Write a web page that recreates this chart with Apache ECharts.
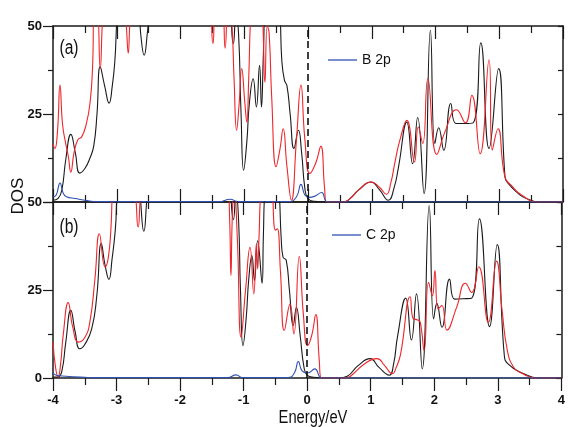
<!DOCTYPE html>
<html>
<head>
<meta charset="utf-8">
<script src="https://cdn.jsdelivr.net/npm/echarts@6/dist/echarts.min.js"></script>
<style>
html,body{margin:0;padding:0;background:#fff;}
#chart{width:568px;height:427px;}
</style>
</head>
<body>
<div id="chart"></div>
<script>
// Energy (eV) vs DOS pairs
var aBlack = [[-4.00,0.5],[-3.92,1.0],[-3.86,3.5],[-3.80,12],[-3.72,19.2],[-3.65,14],[-3.58,8.2],[-3.50,9.5],[-3.42,12.5],[-3.36,16],[-3.31,25],[-3.26,38.4],[-3.19,33],[-3.12,28.1],[-3.07,33],[-3.03,40],[-2.98,55],[-2.85,70],[-2.68,60],[-2.62,47],[-2.57,41.7],[-2.52,48],[-2.45,60],[-2.0,80],[-1.5,80],[-1.25,60],[-1.17,45],[-1.13,53],[-1.09,48],[-1.05,25],[-1.01,9.0],[-0.96,17],[-0.92,28],[-0.86,35],[-0.81,27],[-0.76,38.8],[-0.73,27],[-0.70,42],[-0.66,60],[-0.55,70],[-0.45,56],[-0.41,40],[-0.37,34.6],[-0.33,33],[-0.28,25],[-0.22,15.2],[-0.15,20.4],[-0.10,14],[-0.05,4],[0.0,1.0],[0.1,0.2],[0.3,0],[0.55,0],[0.65,0.8],[0.8,3.5],[0.99,5.7],[1.12,3.5],[1.26,0.5],[1.35,4],[1.42,10],[1.55,22.7],[1.64,10.9],[1.72,24],[1.82,2.4],[1.92,48.8],[1.99,16.6],[2.05,21.1],[2.13,14.7],[2.24,28],[2.32,22.3],[2.45,22.3],[2.59,22.5],[2.71,45.2],[2.84,15.2],[2.99,37.9],[3.09,7.1],[3.13,5.5],[3.30,2.4],[3.40,1.2],[3.64,0],[4.0,0]];
var aRed = [[-4.00,16.5],[-3.97,15.2],[-3.93,20],[-3.89,33.2],[-3.85,22],[-3.80,16.5],[-3.76,13],[-3.72,8.5],[-3.67,14],[-3.61,17.7],[-3.55,18.5],[-3.48,22],[-3.42,28],[-3.38,38],[-3.35,55],[-3.31,55],[-3.26,37.9],[-3.21,55],[-3.1,70],[-2.9,60],[-2.85,50],[-2.82,42.3],[-2.79,52],[-2.7,70],[-2.0,80],[-1.55,60],[-1.49,45],[-1.44,56],[-1.35,56],[-1.30,43.7],[-1.25,56],[-1.20,52],[-1.16,35],[-1.12,20.4],[-1.08,28],[-1.04,37.9],[-0.99,28],[-0.96,22.7],[-0.93,35],[-0.89,55],[-0.8,70],[-0.72,55],[-0.675,34],[-0.64,50],[-0.61,48],[-0.57,30],[-0.50,10],[-0.44,15],[-0.39,20.8],[-0.33,10],[-0.26,0.5],[-0.18,18],[-0.11,33.2],[-0.05,18],[0.03,8.1],[0.12,11],[0.20,15.8],[0.26,4],[0.29,0],[0.55,0],[0.65,0.8],[0.8,3.5],[0.99,5.7],[1.12,4.2],[1.23,2.2],[1.30,5.5],[1.36,10.9],[1.44,17.5],[1.55,23.2],[1.67,11.4],[1.73,21.3],[1.80,16.6],[1.88,35],[2.02,13.5],[2.15,20],[2.33,26.2],[2.47,22.5],[2.57,30.3],[2.70,13.7],[2.84,40.4],[2.89,14.7],[2.98,20.8],[3.09,7.1],[3.2,4.5],[3.35,2],[3.6,0],[4.0,0]];
var aBlue = [[-4.00,1.4],[-3.95,2],[-3.89,5.4],[-3.84,2.5],[-3.79,1.5],[-3.65,1.0],[-3.5,0.5],[-3.3,0.1],[-1.4,0.1],[-1.22,0.8],[-1.1,0.1],[-0.3,0.1],[-0.18,1.5],[-0.11,5.0],[-0.05,2],[0.02,1.3],[0.1,1.6],[0.215,2.7],[0.27,0.5],[0.3,0],[4.0,0]];
var bBlack = [[-4.00,0.3],[-3.92,0.3],[-3.86,2],[-3.80,10],[-3.72,19.2],[-3.65,13],[-3.58,8.3],[-3.50,9.5],[-3.39,14],[-3.31,23.5],[-3.24,38.2],[-3.18,32],[-3.12,28],[-3.07,33.9],[-3.02,42],[-2.97,55],[-2.8,70],[-2.65,55],[-2.57,41.7],[-2.51,53],[-2.4,65],[-1.5,80],[-1.25,60],[-1.16,45],[-1.12,53],[-1.08,45],[-1.05,25],[-1.01,9.2],[-0.96,17],[-0.92,28],[-0.87,34.8],[-0.83,27.7],[-0.78,39],[-0.71,26.9],[-0.69,40],[-0.66,55],[-0.55,70],[-0.45,55],[-0.41,40],[-0.38,34.3],[-0.33,33.5],[-0.28,25],[-0.22,14.9],[-0.17,20.1],[-0.11,12],[-0.05,3],[0.0,0.8],[0.1,0.2],[0.3,0],[0.5,0],[0.63,0.5],[0.8,3.5],[0.99,5.5],[1.13,3],[1.29,0.8],[1.36,4],[1.42,11.6],[1.55,22.7],[1.64,10.8],[1.72,23.9],[1.81,2.6],[1.92,49],[1.99,16.8],[2.04,21.2],[2.12,14.4],[2.24,28.1],[2.32,22.4],[2.45,22.5],[2.59,22.7],[2.71,45.2],[2.87,14.6],[2.99,37.9],[3.10,6.8],[3.16,4],[3.40,1.3],[3.64,0],[4.0,0]];
var bRed = [[-4.00,10.2],[-3.96,3],[-3.92,0.3],[-3.88,4],[-3.84,12.1],[-3.76,21.4],[-3.69,14.5],[-3.60,10.2],[-3.50,11.5],[-3.42,15.9],[-3.34,28.2],[-3.27,41],[-3.18,31.5],[-3.13,34.2],[-3.09,42],[-3.05,55],[-2.9,70],[-2.72,55],[-2.66,42.9],[-2.60,55],[-2.4,70],[-1.5,80],[-1.26,60],[-1.22,45],[-1.20,29.1],[-1.18,45],[-1.15,55],[-1.10,40],[-1.04,11.6],[-0.97,25],[-0.90,37.1],[-0.84,23.9],[-0.80,38.1],[-0.78,31],[-0.76,39],[-0.72,55],[-0.6,70],[-0.55,55],[-0.5,42],[-0.47,42.4],[-0.42,30],[-0.36,13.5],[-0.27,21],[-0.21,12.5],[-0.125,34.5],[-0.06,18],[0.005,9.2],[0.07,12],[0.135,18],[0.19,5],[0.225,0],[0.6,0],[0.7,0.8],[0.9,4],[1.10,5.5],[1.22,3.5],[1.34,1.2],[1.40,3],[1.47,6.8],[1.62,23.1],[1.67,16.8],[1.74,16.5],[1.78,15.8],[1.84,7.8],[1.91,27.2],[1.97,23.4],[2.01,30.5],[2.06,19.6],[2.12,20.6],[2.20,13.6],[2.35,20],[2.49,26.9],[2.59,24.3],[2.70,31.6],[2.85,15.8],[2.98,33.2],[3.07,18.7],[3.15,7.8],[3.25,3],[3.36,1.5],[3.6,0],[4.0,0]];
var bBlue = [[-4.00,1.5],[-3.95,0.8],[-3.8,0.5],[-3.5,0.2],[-3.3,0.1],[-1.25,0.1],[-1.12,0.9],[-1.02,0.1],[-0.3,0.1],[-0.2,1.5],[-0.14,4.7],[-0.08,2],[0.005,1.4],[0.12,2.6],[0.19,0.5],[0.21,0],[4.0,0]];
var xTicks = [-4,-3,-2,-1,0,1,2,3,4];
var yTicks = [0,25,50];
var legendA = 'B 2p', legendB = 'C 2p';

var FONT = '"Liberation Sans",Arial,sans-serif';
var AX = '#1a1a1a';

function xAx(grid, pos, inside, labels) {
  return {
    type: 'value', gridIndex: grid, position: pos, min: xTicks[0], max: xTicks[xTicks.length-1], interval: 1,
    axisLine: {show: true, onZero: false, lineStyle: {color: AX, width: 1.5}},
    axisTick: {show: true, inside: inside, length: 13, lineStyle: {color: AX, width: 1.2}},
    minorTick: {show: true, splitNumber: 2, length: 7, lineStyle: {color: AX, width: 1.2}},
    splitLine: {show: false}, minorSplitLine: {show: false},
    axisLabel: {show: labels, margin: 16, color: '#111', fontFamily: FONT, fontWeight: 'bold', fontSize: 13}
  };
}
function yLeft(grid, hideZero) {
  return {
    type: 'value', gridIndex: grid, position: 'left', min: yTicks[0], max: yTicks[yTicks.length-1], interval: 25,
    axisLine: {show: true, onZero: false, lineStyle: {color: AX, width: 1.5}},
    axisTick: {show: true, inside: false, length: 10, lineStyle: {color: AX, width: 1.2}},
    minorTick: {show: true, splitNumber: 2, length: 5, lineStyle: {color: AX, width: 1.2}},
    splitLine: {show: false},
    axisLabel: {show: true, margin: 11, color: '#111', fontFamily: FONT, fontWeight: 'bold', fontSize: 13,
      formatter: function (v) { return (hideZero && v === 0) ? '' : String(v); }}
  };
}
function yRight(grid) {
  return {
    type: 'value', gridIndex: grid, position: 'right', min: 0, max: 50, interval: 12.5,
    axisLine: {show: true, onZero: false, lineStyle: {color: AX, width: 1.5}},
    axisTick: {show: true, inside: true, length: 5, lineStyle: {color: AX, width: 1.2}},
    splitLine: {show: false}, axisLabel: {show: false}
  };
}
function line(name, data, color, xi, yi, extra) {
  var s = {
    name: name, type: 'line', data: data, xAxisIndex: xi, yAxisIndex: yi,
    smooth: 0.5, symbol: 'none', showSymbol: false, clip: true,
    lineStyle: {color: color, width: 1.1}, itemStyle: {color: color},
    silent: true, animation: false
  };
  if (extra) for (var k in extra) s[k] = extra[k];
  return s;
}
var dashed = {
  markLine: {silent: true, symbol: ['none','none'], label: {show: false},
    lineStyle: {color: '#111', type: [7,4], width: 1.6}, data: [{xAxis: 0}]}
};
function legend(name, left, top) {
  return {data: [name], left: left, top: top, padding: 0, icon: 'rect', itemWidth: 29, itemHeight: 1.3,
    selectedMode: false, textStyle: {fontSize: 14, color: '#111', fontFamily: FONT}};
}

var chart = echarts.init(document.getElementById('chart'), null, {renderer: 'canvas'});
chart.setOption({
  animation: false,
  backgroundColor: '#fff',
  grid: [
    {left: 53, right: 5, top: 26, height: 176},
    {left: 53, right: 5, top: 202, height: 176}
  ],
  xAxis: [xAx(0,'bottom',true,false), xAx(0,'top',true,false), xAx(1,'top',true,false), xAx(1,'bottom',false,true)],
  yAxis: [yLeft(0,true), yRight(0), yLeft(1,false), yRight(1)],
  legend: [legend(legendA, 328, 53), legend(legendB, 332, 228)],
  graphic: [
    {type: 'text', x: 69, y: 48, scaleX: 0.78,
      style: {text: '(a)', fontSize: 20, fontFamily: FONT, fill: '#111', align: 'center', verticalAlign: 'middle'}},
    {type: 'text', x: 69, y: 227, scaleX: 0.78,
      style: {text: '(b)', fontSize: 20, fontFamily: FONT, fill: '#111', align: 'center', verticalAlign: 'middle'}},
    {type: 'text', x: 18, y: 196, rotation: Math.PI/2,
      style: {text: 'DOS', fontSize: 17, fontFamily: FONT, fill: '#111', align: 'center', verticalAlign: 'middle'}},
    {type: 'text', x: 313, y: 418, scaleX: 0.82,
      style: {text: 'Energy/eV', fontSize: 18, fontFamily: FONT, fill: '#111', align: 'center', verticalAlign: 'middle'}}
  ],
  series: [
    line('a-black', aBlack, '#1a1a1a', 0, 0, dashed),
    line('a-red', aRed, '#f0242a', 0, 0),
    line(legendA, aBlue, '#2f51b3', 0, 0),
    line('b-black', bBlack, '#1a1a1a', 3, 2, dashed),
    line('b-red', bRed, '#f0242a', 3, 2),
    line(legendB, bBlue, '#2f51b3', 3, 2)
  ]
});
</script>
</body>
</html>
